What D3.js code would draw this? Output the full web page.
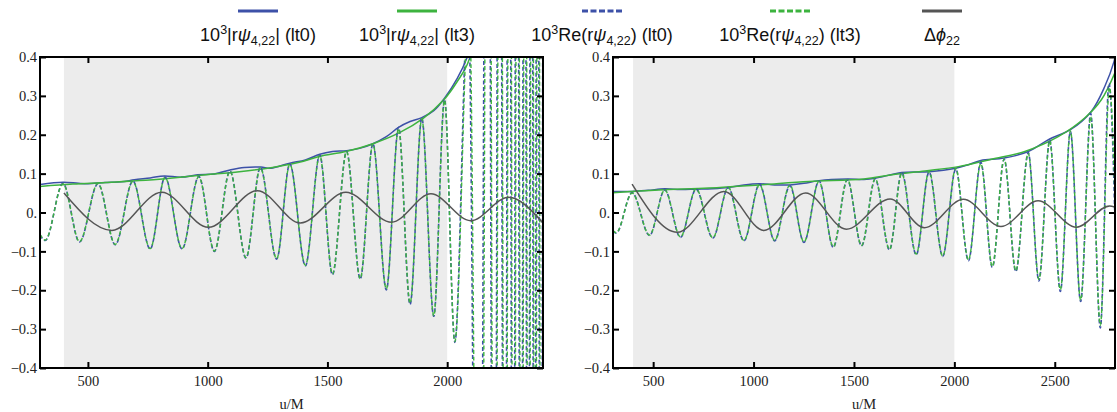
<!DOCTYPE html>
<html><head><meta charset="utf-8">
<script src="https://cdn.jsdelivr.net/npm/d3@7"></script>
<style>body{margin:0;background:#fff} svg{display:block}</style>
</head><body><svg id="c" width="1117" height="412"></svg>
<script>
// ---------- data (u/M, value) ----------
const yTickValues = [-0.4,-0.3,-0.2,-0.1,0,0.1,0.2,0.3,0.4];
const leftXTicks = [500,1000,1500,2000];
const rightXTicks = [500,1000,1500,2000,2500];
const shadeRange = [400,2000];

const leftAbsLt0 = [[300,0.072],[396,0.078],[460,0.075],[500,0.074],[570,0.077],[640,0.079],[694,0.084],[760,0.089],[819,0.094],[889,0.091],[958,0.097],[1028,0.099],[1097,0.110],[1153,0.116],[1222,0.117],[1264,0.114],[1343,0.127],[1408,0.135],[1468,0.150],[1521,0.157],[1580,0.159],[1634,0.165],[1690,0.177],[1746,0.195],[1797,0.219],[1845,0.234],[1894,0.244],[1944,0.262],[1989,0.294],[2042,0.345],[2082,0.397],[2100,0.43],[2150,0.7]];
const leftAbsLt3 = [[300,0.067],[437,0.073],[576,0.077],[715,0.082],[854,0.089],[993,0.097],[1132,0.105],[1271,0.116],[1382,0.129],[1465,0.144],[1577,0.157],[1690,0.177],[1803,0.206],[1901,0.243],[1986,0.290],[2042,0.337],[2091,0.392],[2150,0.65]];
const leftReLt0 = [[300,-0.058],[322,-0.072],[396,0.075],[465,-0.076],[542,0.074],[614,-0.083],[688,0.081],[760,-0.094],[822,0.091],[893,-0.094],[963,0.093],[1028,-0.100],[1093,0.107],[1160,-0.117],[1220,0.116],[1288,-0.120],[1343,0.125],[1408,-0.137],[1468,0.148],[1521,-0.160],[1580,0.157],[1637,-0.171],[1690,0.177],[1746,-0.199],[1797,0.219],[1845,-0.237],[1894,0.243],[1944,-0.267],[1989,0.291],[2032,-0.334],[2088,0.55],[2133,-2],[2168,2],[2196,-2],[2218,2],[2240,-2],[2258,2],[2275,-2],[2291,2],[2308,-2],[2323,2],[2337,-2],[2352,2],[2364,-2],[2377,2],[2390,-2],[2402,2]];
const leftReLt3 = [[300,-0.056],[322,-0.071],[396,0.074],[465,-0.075],[542,0.075],[614,-0.082],[688,0.080],[760,-0.093],[822,0.090],[893,-0.093],[963,0.092],[1028,-0.099],[1093,0.106],[1160,-0.116],[1220,0.115],[1288,-0.119],[1343,0.124],[1408,-0.136],[1468,0.147],[1521,-0.158],[1580,0.156],[1637,-0.170],[1690,0.176],[1746,-0.197],[1797,0.216],[1845,-0.233],[1894,0.241],[1944,-0.266],[1989,0.289],[2032,-0.332],[2092,0.55],[2138,-2],[2172,2],[2199,-2],[2221,2],[2243,-2],[2261,2],[2278,-2],[2294,2],[2311,-2],[2326,2],[2340,-2],[2355,2],[2367,-2],[2380,2],[2393,-2],[2405,2]];
const leftDphi = [[400,0.050],[600,-0.046],[808,0.052],[1003,-0.038],[1208,0.056],[1387,-0.027],[1577,0.052],[1768,-0.025],[1932,0.048],[2098,-0.021],[2256,0.039],[2400,-0.027]];

const rightAbsLt0 = [[300,0.054],[395,0.054],[476,0.057],[558,0.061],[636,0.059],[714,0.060],[794,0.061],[874,0.064],[952,0.071],[1030,0.074],[1105,0.071],[1181,0.071],[1251,0.075],[1326,0.082],[1467,0.086],[1550,0.085],[1606,0.088],[1738,0.103],[1874,0.105],[2007,0.114],[2070,0.123],[2132,0.134],[2248,0.140],[2368,0.157],[2475,0.189],[2578,0.213],[2682,0.260],[2749,0.324],[2795,0.388],[2800,0.400]];
const rightAbsLt3 = [[300,0.051],[528,0.058],[777,0.063],[1027,0.071],[1276,0.080],[1550,0.086],[1689,0.097],[1854,0.107],[2020,0.118],[2185,0.137],[2351,0.157],[2517,0.195],[2649,0.243],[2732,0.290],[2800,0.360]];
const rightReLt0 = [[300,-0.048],[316,-0.053],[395,0.051],[482,-0.059],[558,0.058],[636,-0.064],[714,0.060],[797,-0.066],[874,0.064],[952,-0.073],[1030,0.073],[1105,-0.073],[1181,0.069],[1251,-0.077],[1326,0.081],[1397,-0.090],[1467,0.084],[1538,-0.086],[1606,0.086],[1677,-0.096],[1738,0.103],[1810,-0.109],[1874,0.104],[1942,-0.113],[2007,0.112],[2070,-0.124],[2132,0.129],[2189,-0.141],[2248,0.137],[2306,-0.152],[2368,0.154],[2421,-0.176],[2475,0.187],[2528,-0.203],[2578,0.208],[2629,-0.229],[2679,0.255],[2727,-0.297],[2770,0.332],[2815,-0.36]];
const rightReLt3 = [[300,-0.046],[316,-0.052],[395,0.050],[482,-0.058],[558,0.058],[636,-0.063],[714,0.061],[797,-0.065],[874,0.065],[952,-0.072],[1030,0.071],[1105,-0.072],[1181,0.071],[1251,-0.076],[1326,0.080],[1397,-0.088],[1467,0.085],[1538,-0.085],[1606,0.087],[1677,-0.095],[1738,0.100],[1810,-0.107],[1874,0.106],[1942,-0.112],[2007,0.114],[2070,-0.122],[2132,0.126],[2189,-0.139],[2248,0.138],[2306,-0.150],[2368,0.152],[2421,-0.172],[2475,0.184],[2528,-0.199],[2578,0.210],[2629,-0.226],[2679,0.246],[2727,-0.290],[2772,0.322],[2818,-0.35]];
const rightDphi = [[395,0.073],[620,-0.051],[852,0.054],[1051,-0.046],[1259,0.050],[1462,-0.043],[1680,0.035],[1851,-0.039],[2045,0.034],[2232,-0.036],[2417,0.030],[2608,-0.038],[2773,0.017],[2800,0.014]];

// ---------- styles ----------
const BLUE = "#3d51a8", GREEN = "#3db33f", GRAY = "#555555";
const svg = d3.select("#c");
const defs = svg.append("defs");
const TOP = 57, BOT = 368;
const SERIF = "'Liberation Serif','Times New Roman',serif";

const fmtY = v => Math.abs(v) < 1e-9 ? "0." : (v < 0 ? "\u2212" : "") + Math.abs(v).toFixed(1);

function drawPanel(id, left, right, domain, xTicks, data) {
  const x = d3.scaleLinear().domain(domain).range([left, right]);
  const y = d3.scaleLinear().domain([-0.4, 0.4]).range([BOT, TOP]);
  defs.append("clipPath").attr("id", id).append("rect")
    .attr("x", left).attr("y", TOP).attr("width", right - left).attr("height", BOT - TOP);
  const g = svg.append("g");
  const plot = g.append("g").attr("clip-path", `url(#${id})`);
  plot.append("rect").attr("x", x(shadeRange[0])).attr("y", TOP)
    .attr("width", x(shadeRange[1]) - x(shadeRange[0])).attr("height", BOT - TOP).attr("fill", "#ececec");
  const smooth = d3.line().x(d => x(d[0])).y(d => y(d[1])).curve(d3.curveCatmullRom.alpha(0.5));
  const mono = d3.line().x(d => x(d[0])).y(d => y(d[1])).curve(d3.curveMonotoneX);
  plot.append("path").attr("d", smooth(data.absLt0)).attr("fill", "none").attr("stroke", BLUE).attr("stroke-width", 1.5);
  plot.append("path").attr("d", smooth(data.absLt3)).attr("fill", "none").attr("stroke", GREEN).attr("stroke-width", 1.5);
  plot.append("path").attr("d", mono(data.reLt0)).attr("fill", "none").attr("stroke", BLUE).attr("stroke-width", 1.6).attr("stroke-dasharray", "4,2.5");
  plot.append("path").attr("d", mono(data.reLt3)).attr("fill", "none").attr("stroke", GREEN).attr("stroke-width", 1.4).attr("stroke-dasharray", "4,2.5");
  plot.append("path").attr("d", mono(data.dphi)).attr("fill", "none").attr("stroke", GRAY).attr("stroke-width", 1.5);

  const axStyle = sel => {
    sel.select(".domain").remove();
    sel.selectAll(".tick line").attr("stroke", "#000").attr("stroke-width", 2);
    sel.selectAll("text").attr("font-family", SERIF).attr("font-size", 14.5).attr("fill", "#222");
  };
  g.append("g").attr("transform", `translate(0,${BOT})`)
    .call(d3.axisBottom(x).tickValues(xTicks).tickSizeInner(-6).tickSizeOuter(0).tickPadding(8).tickFormat(d3.format("d"))).call(axStyle);
  g.append("g").attr("transform", `translate(0,${TOP})`)
    .call(d3.axisTop(x).tickValues(xTicks).tickSizeInner(-6).tickSizeOuter(0).tickFormat("")).call(axStyle);
  g.append("g").attr("transform", `translate(${left},0)`)
    .call(d3.axisLeft(y).tickValues(yTickValues).tickSizeInner(-6).tickSizeOuter(0).tickPadding(3).tickFormat(fmtY)).call(axStyle);
  g.append("g").attr("transform", `translate(${right},0)`)
    .call(d3.axisRight(y).tickValues(yTickValues).tickSizeInner(-6).tickSizeOuter(0).tickFormat("")).call(axStyle);
  g.append("rect").attr("x", left).attr("y", TOP).attr("width", right - left).attr("height", BOT - TOP)
    .attr("fill", "none").attr("stroke", "#000").attr("stroke-width", 2);
  g.append("text").attr("x", (left + right) / 2).attr("y", 409).attr("text-anchor", "middle")
    .attr("font-family", SERIF).attr("font-size", 14.5).attr("fill", "#222").text("u/M");
}

drawPanel("clipL", 40, 543, [300, 2400], leftXTicks, {absLt0: leftAbsLt0, absLt3: leftAbsLt3, reLt0: leftReLt0, reLt3: leftReLt3, dphi: leftDphi});
drawPanel("clipR", 613, 1115, [300, 2800], rightXTicks, {absLt0: rightAbsLt0, absLt3: rightAbsLt3, reLt0: rightReLt0, reLt3: rightReLt3, dphi: rightDphi});

// ---------- legend ----------
const legendItems = [
  {cx: 258, color: BLUE, dash: null, parts: [["10"],["3","sup"],["|r"],["ψ","it"],["4,22","sub"],["| (lt0)"]]},
  {cx: 417, color: GREEN, dash: null, parts: [["10"],["3","sup"],["|r"],["ψ","it"],["4,22","sub"],["| (lt3)"]]},
  {cx: 602, color: BLUE, dash: "6,2.5", parts: [["10"],["3","sup"],["Re(r"],["ψ","it"],["4,22","sub"],[") (lt0)"]]},
  {cx: 790, color: GREEN, dash: "6,2.5", parts: [["10"],["3","sup"],["Re(r"],["ψ","it"],["4,22","sub"],[") (lt3)"]]},
  {cx: 942, color: GRAY, dash: null, parts: [["Δ"],["ϕ","it"],["22","sub"]]}
];
const lg = svg.append("g");
legendItems.forEach(it => {
  lg.append("line").attr("x1", it.cx - 20).attr("x2", it.cx + 20).attr("y1", 11).attr("y2", 11)
    .attr("stroke", it.color).attr("stroke-width", 3).attr("stroke-dasharray", it.dash);
  const t = lg.append("text").attr("x", it.cx).attr("y", 41).attr("text-anchor", "middle")
    .attr("font-family", "'Liberation Sans',Arial,sans-serif").attr("font-size", 18).attr("fill", "#111");
  let shift = 0;
  it.parts.forEach(p => {
    const ts = t.append("tspan").text(p[0]);
    let target = 0;
    if (p[1] === "sup") { target = -7; ts.attr("font-size", 12.5); }
    if (p[1] === "sub") { target = 4; ts.attr("font-size", 12.5); }
    if (p[1] === "it") ts.attr("font-style", "italic");
    ts.attr("dy", target - shift);
    shift = target;
  });
});
</script></body></html>
